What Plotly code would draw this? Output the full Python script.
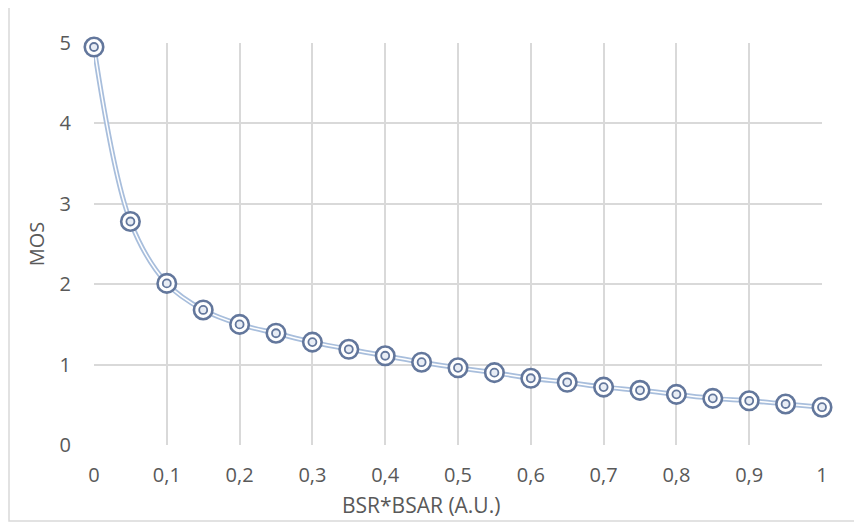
import plotly.graph_objects as go

x_vals = [0, 0.05, 0.1, 0.15, 0.2, 0.25, 0.3, 0.35, 0.4, 0.45, 0.5,
          0.55, 0.6, 0.65, 0.7, 0.75, 0.8, 0.85, 0.9, 0.95, 1.0]
mos_vals = [4.95, 2.78, 2.01, 1.68, 1.50, 1.39, 1.28, 1.19, 1.11, 1.03, 0.96,
            0.90, 0.83, 0.78, 0.72, 0.68, 0.63, 0.58, 0.55, 0.51, 0.47]
x_ticks = [0, 0.1, 0.2, 0.3, 0.4, 0.5, 0.6, 0.7, 0.8, 0.9, 1.0]
x_tick_labels = ["0", "0,1", "0,2", "0,3", "0,4", "0,5", "0,6", "0,7", "0,8", "0,9", "1"]
y_ticks = [0, 1, 2, 3, 4, 5]
x_title = "BSR*BSAR (A.U.)"
y_title = "MOS"

font_fam = "Open Sans, Carlito, Liberation Sans, sans-serif"
txt_col = "#595959"
grid_col = "#d9d9d9"
ring_col = "#63779c"

# page body has an 8px offset; figure placed so plot area is at x 94..822, y 43..445
OFF = 8
fig = go.Figure()
fig.add_trace(go.Scatter(x=x_vals, y=mos_vals, mode="lines",
                         line=dict(color="#a8bedc", width=5, shape="spline", smoothing=1.0),
                         hoverinfo="skip", showlegend=False, cliponaxis=False))
fig.add_trace(go.Scatter(x=x_vals, y=mos_vals, mode="lines",
                         line=dict(color="white", width=1.5, shape="spline", smoothing=1.0),
                         hoverinfo="skip", showlegend=False, cliponaxis=False))
fig.add_trace(go.Scatter(x=x_vals, y=mos_vals, mode="markers",
                         marker=dict(size=18.5, color="white",
                                     line=dict(color=ring_col, width=2.6)),
                         showlegend=False, cliponaxis=False))
fig.add_trace(go.Scatter(x=x_vals, y=mos_vals, mode="markers",
                         marker=dict(size=8, color="#e8edf5",
                                     line=dict(color=ring_col, width=1.8)),
                         showlegend=False, cliponaxis=False))

fig.update_layout(
    width=862 - OFF, height=523 - OFF,
    margin=dict(l=94 - OFF, r=40, t=43 - OFF, b=78, autoexpand=False),
    paper_bgcolor="white", plot_bgcolor="white",
    font=dict(family=font_fam, color=txt_col, size=20),
    showlegend=False,
    shapes=[dict(type="rect", xref="paper", yref="paper",
                 x0=(9 - 94) / 728, x1=(880 - 94) / 728,
                 y0=(445 - 521) / 402, y1=(445 - 5) / 402,
                 line=dict(color="#d9d9d9", width=1.5), layer="below")],
    annotations=[dict(text=x_title, xref="paper", yref="paper",
                      x=(421 - 94) / 728, y=(445 - 505) / 402,
                      xanchor="center", yanchor="middle", showarrow=False,
                      font=dict(size=21, color=txt_col))],
)
fig.update_xaxes(range=[0, 1], tickvals=x_ticks, ticktext=x_tick_labels,
                 showgrid=True, gridcolor=grid_col, gridwidth=1.5,
                 zeroline=False, showline=False, ticks="", ticklabelstandoff=16,
                 tickfont=dict(size=20, color=txt_col))
fig.update_yaxes(range=[0, 5], tickvals=y_ticks,
                 showgrid=True, gridcolor=grid_col, gridwidth=1.5,
                 zeroline=False, showline=False, ticks="", ticklabelstandoff=22,
                 tickfont=dict(size=20, color=txt_col),
                 title=dict(text=y_title, font=dict(size=20, color=txt_col), standoff=9))

fig.write_html("out.html")
